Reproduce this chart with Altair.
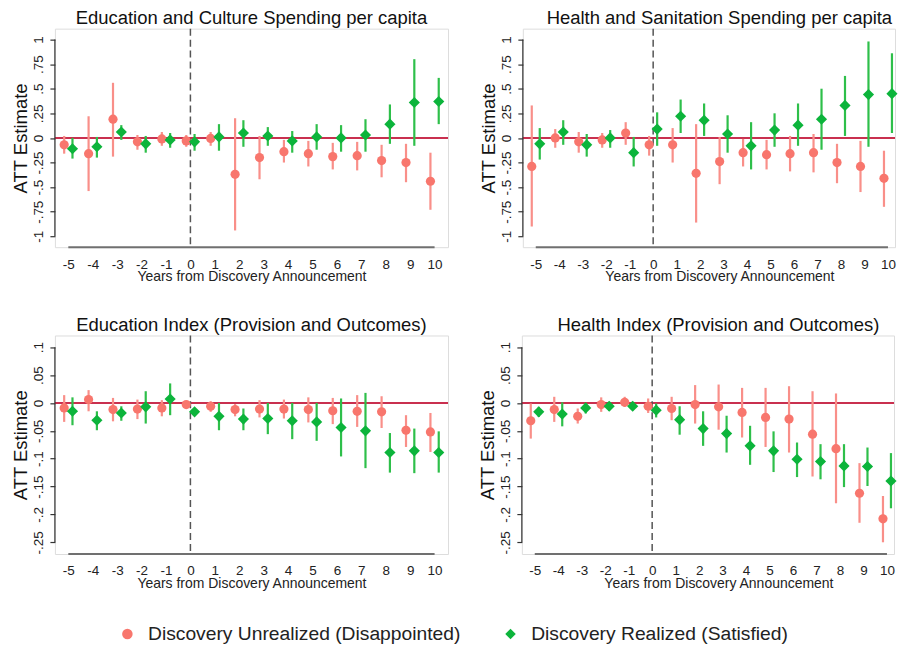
import altair as alt
import pandas as pd

# ------------------------------------------------------------
# Data (point estimate + 95% CI bounds)
# ------------------------------------------------------------

years = list(range(-5, 11))
groups = ["Discovery Unrealized (Disappointed)", "Discovery Realized (Satisfied)"]

# Education and Culture Spending per capita
ecs_u_est = [-0.07, -0.16, 0.19, -0.04, -0.01, -0.03, -0.005, -0.37, -0.20, -0.14, -0.16, -0.19, -0.18, -0.23, -0.25, -0.44]
ecs_u_lo = [-0.16, -0.54, -0.19, -0.12, -0.08, -0.09, -0.08, -0.94, -0.42, -0.25, -0.29, -0.32, -0.33, -0.40, -0.45, -0.73]
ecs_u_hi = [0.02, 0.22, 0.56, 0.03, 0.06, 0.03, 0.06, 0.20, 0.02, -0.02, -0.03, -0.05, -0.04, -0.07, -0.06, -0.15]
ecs_r_est = [-0.11, -0.09, 0.06, -0.06, -0.02, -0.04, 0.01, 0.05, 0.02, -0.03, 0.01, 0.00, 0.03, 0.14, 0.36, 0.37]
ecs_r_lo = [-0.21, -0.20, -0.02, -0.15, -0.10, -0.13, -0.13, -0.09, -0.08, -0.15, -0.12, -0.14, -0.14, -0.06, -0.08, 0.14]
ecs_r_hi = [0.00, 0.01, 0.13, 0.02, 0.05, 0.04, 0.14, 0.18, 0.11, 0.07, 0.14, 0.13, 0.19, 0.34, 0.80, 0.61]

# Health and Sanitation Spending per capita
hss_u_est = [-0.29, 0.00, -0.04, -0.02, 0.05, -0.07, -0.07, -0.36, -0.24, -0.15, -0.17, -0.16, -0.15, -0.25, -0.29, -0.41]
hss_u_lo = [-0.90, -0.10, -0.15, -0.10, -0.07, -0.18, -0.25, -0.86, -0.47, -0.29, -0.32, -0.34, -0.35, -0.46, -0.55, -0.70]
hss_u_hi = [0.33, 0.09, 0.06, 0.05, 0.16, 0.02, 0.10, 0.14, 0.01, -0.01, -0.02, 0.02, 0.04, -0.06, -0.03, -0.13]
hss_r_est = [-0.06, 0.06, -0.07, 0.00, -0.15, 0.09, 0.22, 0.18, 0.04, -0.08, 0.08, 0.13, 0.19, 0.33, 0.44, 0.45]
hss_r_lo = [-0.22, -0.07, -0.19, -0.10, -0.29, -0.08, 0.05, 0.02, -0.15, -0.32, -0.09, -0.08, -0.12, 0.02, -0.09, 0.05]
hss_r_hi = [0.10, 0.18, 0.04, 0.08, 0.01, 0.26, 0.39, 0.35, 0.23, 0.16, 0.25, 0.35, 0.50, 0.63, 0.98, 0.86]

# Education Index (Provision and Outcomes)
edi_u_est = [-0.009, 0.006, -0.012, -0.011, -0.009, -0.003, -0.006, -0.012, -0.011, -0.011, -0.012, -0.014, -0.015, -0.016, -0.049, -0.052]
edi_u_lo = [-0.034, -0.015, -0.033, -0.029, -0.024, -0.009, -0.016, -0.024, -0.026, -0.028, -0.035, -0.038, -0.043, -0.045, -0.079, -0.088]
edi_u_hi = [0.014, 0.023, 0.009, 0.006, 0.005, 0.003, 0.003, -0.002, 0.005, 0.006, 0.010, 0.009, 0.014, 0.012, -0.022, -0.018]
edi_r_est = [-0.015, -0.031, -0.018, -0.007, 0.007, -0.016, -0.024, -0.029, -0.028, -0.032, -0.034, -0.044, -0.050, -0.089, -0.086, -0.089]
edi_r_lo = [-0.040, -0.049, -0.032, -0.037, -0.022, -0.022, -0.049, -0.049, -0.056, -0.065, -0.068, -0.096, -0.117, -0.125, -0.126, -0.125]
edi_r_hi = [0.010, -0.015, -0.006, 0.021, 0.035, -0.010, 0.000, -0.010, 0.000, 0.000, 0.000, 0.008, 0.018, -0.054, -0.046, -0.051]

# Health Index (Provision and Outcomes)
hei_u_est = [-0.032, -0.012, -0.024, -0.003, 0.001, -0.006, -0.010, -0.003, -0.007, -0.017, -0.026, -0.029, -0.056, -0.082, -0.162, -0.208]
hei_u_lo = [-0.064, -0.034, -0.037, -0.016, -0.007, -0.018, -0.031, -0.037, -0.048, -0.062, -0.079, -0.089, -0.132, -0.180, -0.215, -0.250]
hei_u_hi = [-0.001, 0.011, -0.010, 0.010, 0.011, 0.008, 0.011, 0.032, 0.033, 0.027, 0.027, 0.030, 0.021, 0.017, -0.108, -0.167]
hei_r_est = [-0.016, -0.020, -0.009, -0.006, -0.006, -0.013, -0.030, -0.046, -0.055, -0.077, -0.086, -0.101, -0.105, -0.113, -0.114, -0.140]
hei_r_lo = [-0.025, -0.042, -0.019, -0.014, -0.013, -0.026, -0.057, -0.077, -0.089, -0.111, -0.124, -0.133, -0.137, -0.151, -0.149, -0.189]
hei_r_hi = [-0.007, 0.001, 0.000, 0.002, 0.002, -0.001, -0.006, -0.015, -0.023, -0.041, -0.051, -0.071, -0.074, -0.074, -0.080, -0.090]

spend_ticks = [-1, -0.75, -0.5, -0.25, 0, 0.25, 0.5, 0.75, 1]
index_ticks = [-0.25, -0.2, -0.15, -0.1, -0.05, 0, 0.05, 0.1]

# ------------------------------------------------------------
# Styling
# ------------------------------------------------------------

FONT = "Liberation Sans"
RED, RED_CI = "#f8766d", "#f98f89"
GREEN, GREEN_CI = "#0cb43b", "#2ebf4a"
ZERO = "#c9304f"
OFFSET = 0.17          # horizontal dodge of the two series
H = 219
LEFT_W, LEFT_X = 394, [-5.55, 10.55]
# right-hand panels are cut by the page edge in the original: keep them inside
RIGHT_W, RIGHT_X = 373, [-5.55, 10.3]


def build_frame(u_est, u_lo, u_hi, r_est, r_lo, r_hi):
    rows = []
    for i, yr in enumerate(years):
        rows.append({"year": yr, "group": groups[0], "est": u_est[i], "lo": u_lo[i], "hi": u_hi[i]})
        rows.append({"year": yr, "group": groups[1], "est": r_est[i], "lo": r_lo[i], "hi": r_hi[i]})
    return pd.DataFrame(rows)


def panel(title, frame, ticks, y_domain, width, x_domain):
    # keep titles centred where the uncropped panel would centre them
    shift = (LEFT_W - width) / 2
    x_scale = alt.Scale(domain=x_domain, nice=False, zero=False)
    y_scale = alt.Scale(domain=y_domain, nice=False, zero=False)
    x_axis = alt.Axis(
        values=years, title="Years from Discovery Announcement", format="d",
        labelExpr="replace(datum.label, '\u2212', '-')",
        domain=False, ticks=False, grid=False, labelPadding=10, labelFontSize=13.5,
        labelColor="#222", titleFontSize=14, titleFontWeight="normal",
        titleColor="#222", titlePadding=-1, titleX=width / 2 + shift,
    )
    y_axis = alt.Axis(
        values=ticks, title="ATT Estimate", format=".3~f",
        labelExpr="replace(replace(datum.label, '\u2212', '-'), '0.', '.')",
        domain=False, ticks=True, tickSize=5, tickColor="#333", tickWidth=1.2,
        grid=False, labelAngle=270, labelAlign="center", labelBaseline="bottom",
        labelPadding=4.5, labelFontSize=13.5, labelColor="#222",
        titleFontSize=18.5, titleFontWeight="normal", titleColor="#111", titlePadding=1,
    )

    def X(field):
        return alt.X(field, scale=x_scale, axis=x_axis)

    def Y(field):
        return alt.Y(field, scale=y_scale, axis=y_axis)

    base = alt.Chart(frame).transform_calculate(
        pos=f"datum.group == '{groups[0]}' ? datum.year - {OFFSET} : datum.year + {OFFSET}"
    )

    zero_line = alt.Chart(pd.DataFrame({"v": [0]})).mark_rule(
        color=ZERO, strokeWidth=2
    ).encode(y=Y("v:Q"))

    event_line = alt.Chart(pd.DataFrame({"v": [0]})).mark_rule(
        color="#555", strokeWidth=1.5, strokeDash=[7, 4]
    ).encode(x=X("v:Q"))

    x_line = alt.Chart(pd.DataFrame({"a": [min(years)], "b": [max(years)], "c": [y_domain[0]]})).mark_rule(
        color="#707070", strokeWidth=2
    ).encode(x=X("a:Q"), x2="b:Q", y=Y("c:Q"))

    y_line = alt.Chart(pd.DataFrame({"a": [min(ticks)], "b": [max(ticks)], "c": [x_domain[0]]})).mark_rule(
        color="#333", strokeWidth=1.2
    ).encode(y=Y("a:Q"), y2="b:Q", x=X("c:Q"))

    layers = [zero_line, event_line, x_line, y_line]
    for g, ci_col in [(groups[0], RED_CI), (groups[1], GREEN_CI)]:
        sub = base.transform_filter(alt.datum.group == g)
        layers.append(
            sub.mark_rule(color=ci_col, strokeWidth=2.2).encode(x=X("pos:Q"), y=Y("lo:Q"), y2="hi:Q")
        )
        legend = alt.Legend(
            title=None, orient="none", legendX=63, legendY=597, direction="horizontal",
            labelFontSize=19.3, labelColor="#222", labelLimit=500, symbolSize=110,
            columnPadding=40, labelOffset=11, symbolStrokeWidth=0,
        )
        layers.append(
            sub.mark_point(filled=True, opacity=1, size=85 if g == groups[0] else 125).encode(
                x=X("pos:Q"), y=Y("est:Q"),
                color=alt.Color("group:N", scale=alt.Scale(domain=groups, range=[RED, GREEN]), legend=legend),
                shape=alt.Shape("group:N", scale=alt.Scale(domain=groups, range=["circle", "diamond"]), legend=legend),
            )
        )

    return alt.layer(*layers).properties(
        width=width, height=H,
        title=alt.TitleParams(title, fontSize=18.5, fontWeight="normal", color="#111",
                              anchor="middle", frame="group", offset=0, dx=shift),
    )


p1 = panel("Education and Culture Spending per capita",
           build_frame(ecs_u_est, ecs_u_lo, ecs_u_hi, ecs_r_est, ecs_r_lo, ecs_r_hi),
           spend_ticks, [-1.11, 1.11], LEFT_W, LEFT_X)
p2 = panel("Health and Sanitation Spending per capita",
           build_frame(hss_u_est, hss_u_lo, hss_u_hi, hss_r_est, hss_r_lo, hss_r_hi),
           spend_ticks, [-1.11, 1.11], RIGHT_W, RIGHT_X)
p3 = panel("Education Index (Provision and Outcomes)",
           build_frame(edi_u_est, edi_u_lo, edi_u_hi, edi_r_est, edi_r_lo, edi_r_hi),
           index_ticks, [-0.271, 0.121], LEFT_W, LEFT_X)
p4 = panel("Health Index (Provision and Outcomes)",
           build_frame(hei_u_est, hei_u_lo, hei_u_hi, hei_r_est, hei_r_lo, hei_r_hi),
           index_ticks, [-0.271, 0.121], RIGHT_W, RIGHT_X)

chart = (
    alt.vconcat(
        alt.hconcat(p1, p2, spacing=28),
        alt.hconcat(p3, p4, spacing=28),
        spacing=31.5,
    )
    .properties(padding={"left": 2, "top": 0, "right": 0, "bottom": 0}, background="white")
    .configure_view(stroke=None)
    .configure(font=FONT)
)

chart.save("out.html", embed_options={"renderer": "svg", "actions": False})
